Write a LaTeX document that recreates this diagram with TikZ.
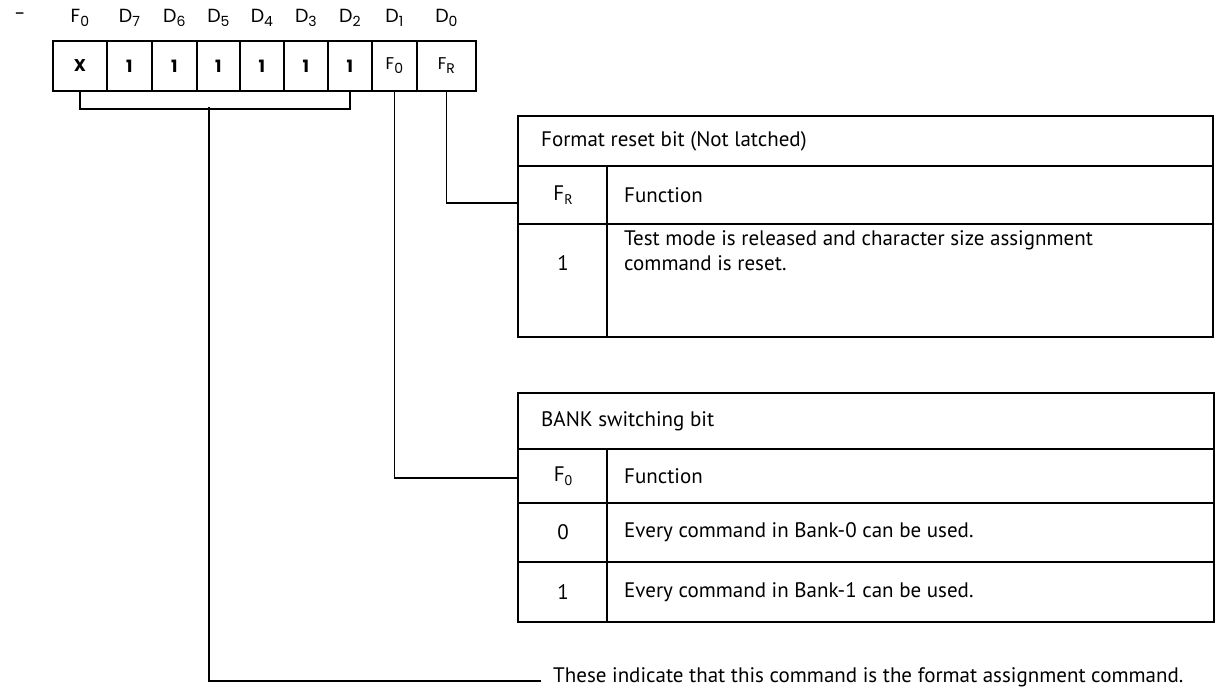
\documentclass[tikz,border=0pt]{standalone}
\usepackage{fontspec}
\setmainfont{PT Sans}
\newfontfamily\labfont{Poppins}
\newcommand\mysub[1]{\raisebox{-0.4ex}{\fontsize{14}{14}\selectfont #1}}
\begin{document}
\begin{tikzpicture}[x=1pt,y=-1pt]
\tikzset{
  bit/.style={draw, line width=1.8pt, minimum height=50, inner sep=0, anchor=north west,
    font=\labfont\fontsize{17}{17}\selectfont\bfseries},
  lab/.style={font=\labfont\fontsize{19}{19}\selectfont, inner sep=0},
  tline/.style={line width=1.6pt},
  conn/.style={line width=1.6pt},
  cell/.style={font=\fontsize{21}{25}\selectfont, inner sep=0},
}
\useasboundingbox (0,0) rectangle (1220,687);
% stray dash
\node[lab] (dash) at (20,17) {-};
% bit boxes
\node[bit, minimum width=54] (bx) at (52,40) {X};
\node[bit, minimum width=45] (b7) at (106,40) {1};
\node[bit, minimum width=45] (b6) at (151,40) {1};
\node[bit, minimum width=43] (b5) at (196,40) {1};
\node[bit, minimum width=44] (b4) at (239,40) {1};
\node[bit, minimum width=44] (b3) at (283,40) {1};
\node[bit, minimum width=44] (b2) at (327,40) {1};
\node[bit, minimum width=45, font=\labfont\fontsize{17}{17}\selectfont] (bf0) at (371,40) {F\mysub{0}};
\node[bit, minimum width=59, font=\labfont\fontsize{17}{17}\selectfont] (bfr) at (416,40) {F\mysub{R}};
% labels
\node[lab] (lf0) at (bx.north |- 0,18) {F\mysub{0}};
\node[lab] (l7) at (b7.north |- 0,18) {D\mysub{7}};
\node[lab] (l6) at (b6.north |- 0,18) {D\mysub{6}};
\node[lab] (l5) at (b5.north |- 0,18) {D\mysub{5}};
\node[lab] (l4) at (b4.north |- 0,18) {D\mysub{4}};
\node[lab] (l3) at (b3.north |- 0,18) {D\mysub{3}};
\node[lab] (l2) at (b2.north |- 0,18) {D\mysub{2}};
\node[lab] (l1) at (bf0.north |- 0,18) {D\mysub{1}};
\node[lab] (l0) at (bfr.north |- 0,18) {D\mysub{0}};
% table 1
\draw[tline] (518,116) rectangle (1213,337);
\draw[tline] (518,166) -- (1213,166);
\draw[tline] (518,224) -- (1213,224);
\draw[tline] (607,166) -- (607,337);
\node[cell, anchor=west] (t1h) at (541,141) {Format reset bit (Not latched)};
\node[cell] (t1k) at (563,195) {F\mysub{R}};
\node[cell, anchor=west] (t1f) at (624,195) {Function};
\node[cell, anchor=base] (t1v) at (563,270) {1};
\node[cell, anchor=base west, align=left] (t1d) at (624,270) {Test mode is released and character size assignment\\command is reset.};
% table 2
\draw[tline] (518,393) rectangle (1214,622);
\draw[tline] (518,449) -- (1214,449);
\draw[tline] (518,503) -- (1214,503);
\draw[tline] (518,562) -- (1214,562);
\draw[tline] (607,449) -- (607,622);
\node[cell, anchor=west] (t2h) at (541,421) {BANK switching bit};
\node[cell] (t2k) at (563,476) {F\mysub{0}};
\node[cell, anchor=west] (t2f) at (624,476) {Function};
\node[cell] (t2a) at (563,532) {0};
\node[cell, anchor=west] (t2ad) at (624,532) {Every command in Bank-0 can be used.};
\node[cell] (t2b) at (563,592) {1};
\node[cell, anchor=west] (t2bd) at (624,592) {Every command in Bank-1 can be used.};
% bottom note
\node[cell, anchor=base west] (note) at (553,682) {These indicate that this command is the format assignment command.};
% connectors
\coordinate (brkmid) at (209,107);
\coordinate (stemend) at (541,681);
\coordinate (t1c) at (518,203);
\coordinate (t2c) at (518,478);
\draw[conn] (bx.south) -- ++(0,17) -| (b2.south);
\draw[conn] (brkmid) |- (stemend);
\draw[conn] (bfr.south) |- (t1c);
\draw[conn] (bf0.south) |- (t2c);
\end{tikzpicture}
\end{document}
